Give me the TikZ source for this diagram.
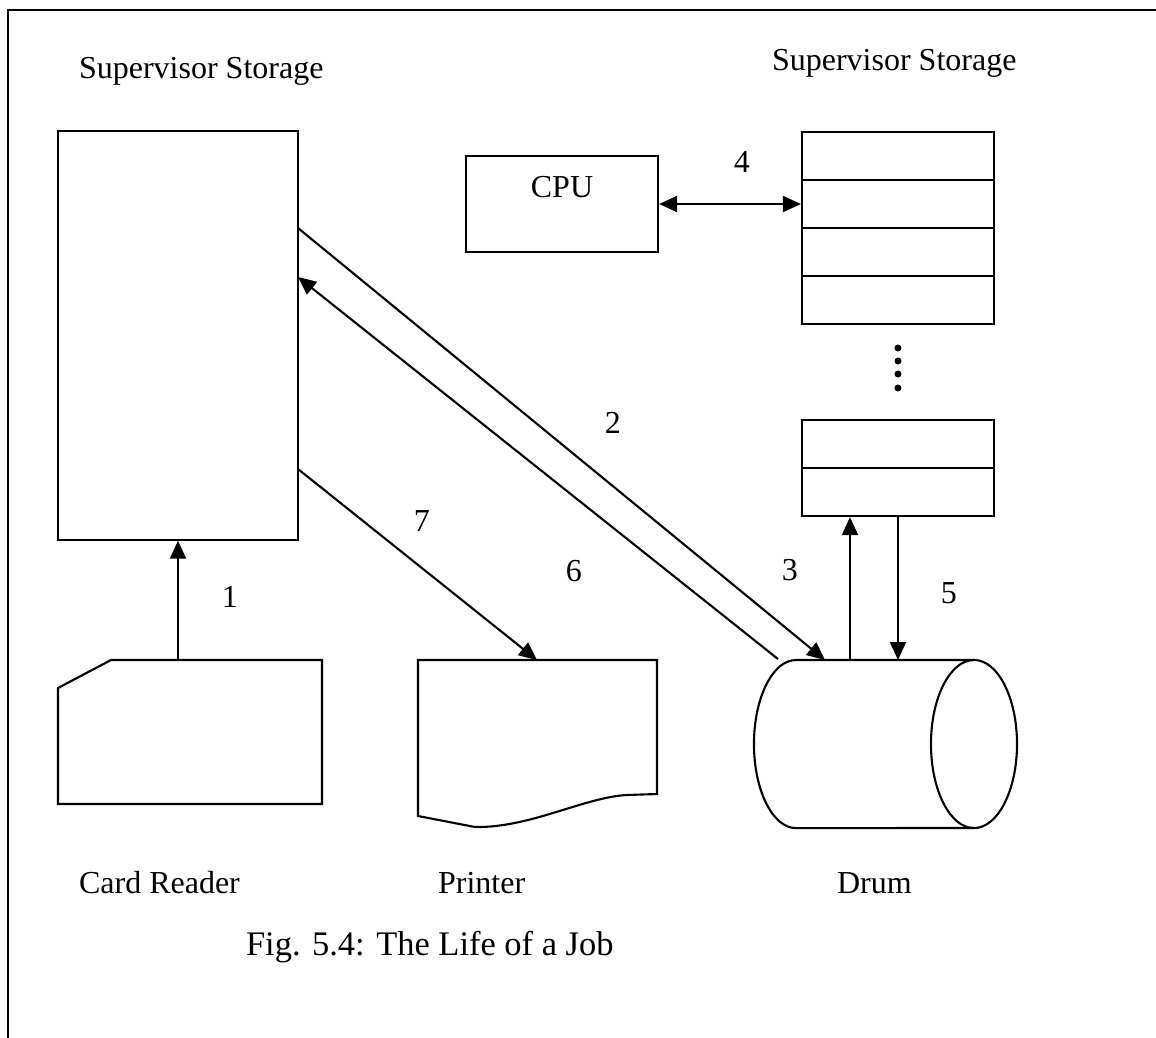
\documentclass[tikz,border=0pt]{standalone}
\usepackage{fontspec}
\setmainfont{Liberation Serif}
\usetikzlibrary{positioning}
\usetikzlibrary{arrows.meta}

\tikzset{
  flow/.style={-{Triangle[length=0.18cm,width=0.16cm]}},
  twoway/.style={{Triangle[length=0.18cm,width=0.16cm]}-{Triangle[length=0.18cm,width=0.16cm]}},
  box/.style={draw, rectangle, inner sep=0pt},
  cell/.style={box, minimum width=1.92cm, minimum height=0.48cm},
  num/.style={inner sep=0pt},
  lbl/.style={inner sep=0pt, anchor=base west}
}

\begin{document}
\begin{tikzpicture}[x=0.01cm, y=-0.01cm, line width=0.6pt, font=\fontsize{9.1}{11}\selectfont]
\useasboundingbox (0,0) rectangle (1156,1038);
%frame
\draw (1156,10) -- (8,10) -- (8,1038);

%main storage
\node[box, minimum width=2.40cm, minimum height=4.08cm] (store) at (178,335.5) {};
\node[lbl] at (78,78) {Supervisor Storage};

%cpu
\node[box, minimum width=1.92cm, minimum height=0.96cm] (cpu) at (562,204) {};
\node[inner sep=0pt, below=0.2cm of cpu.north] (cputext) {CPU};

%storage cells
\node[lbl] at (771,70) {Supervisor Storage};
\foreach \i/\y in {1/156,2/204,3/252,4/300,5/444,6/492}
  \node[cell] (cell\i) at (898,\y) {};
\foreach \y in {348,361,374,388}
  \fill (898,\y) circle (0.035cm);

%card reader
\draw (58,688) -- (111,660) -- (322,660) -- (322,804) -- (58,804) -- cycle;
\coordinate (reader) at (178,660);

%printer
\draw (418,816) -- (418,660) -- (657,660) -- (657,794) -- (627,795)
  .. controls (585,797) and (530,828) .. (475,827) -- cycle;
\coordinate (prn) at (537,660);

%drum
\draw (974,660) -- (796,660) arc[start angle=90, end angle=270, x radius=0.42cm, y radius=0.84cm] -- (974,828);
\draw (974,744) ellipse [x radius=0.43cm, y radius=0.84cm];
\coordinate (drumtop) at (885,660);
\coordinate (up3) at (850,660);
\coordinate (in2) at (825,660);
\coordinate (out6) at (778,659);

%ends on the storage side
\coordinate (s2) at (298,228);
\coordinate (s6) at (298,277);
\coordinate (s7) at (298,469);

%flows
\draw[flow] (reader) -- (reader |- store.south);
\draw[flow] (s2) -- (in2);
\draw[flow] (out6) -- (s6);
\draw[flow] (s7) -- (prn);
\draw[flow] (up3) -- (up3 |- cell6.south);
\draw[flow] (cell6.south) -- (cell6.south |- drumtop);
\draw[twoway] (cpu.east) -- (cpu.east -| cell2.west);

%step numbers
\node[num] (n1) at (230,597) {1};
\node[num] (n2) at (613,423) {2};
\node[num] (n3) at (790,570) {3};
\node[num] (n4) at (742,162) {4};
\node[num] (n5) at (949,593) {5};
\node[num] (n6) at (574,571) {6};
\node[num] (n7) at (422,521) {7};

%device names
\node[lbl] at (78,893) {Card Reader};
\node[lbl] at (437,893) {Printer};
\node[lbl] at (836,893) {Drum};
\node[lbl, font=\fontsize{9.8}{12}\selectfont] at (245,955) {Fig. 5.4: The Life of a Job};
\end{tikzpicture}
\end{document}
